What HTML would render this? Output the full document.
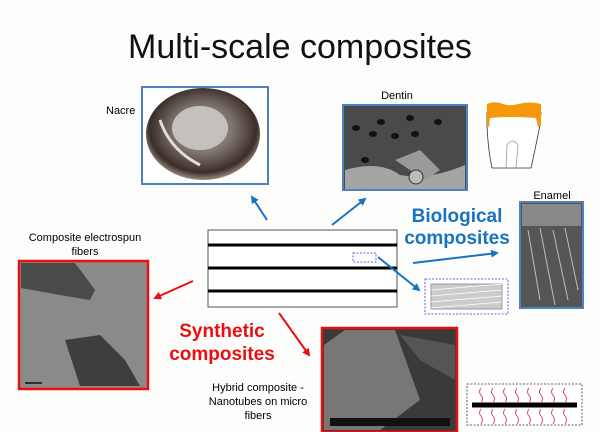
<!DOCTYPE html>
<html><head><style>
html,body{margin:0;padding:0;background:#fdfdfb;}
svg{display:block;font-family:"Liberation Sans",sans-serif;}
</style></head><body>
<svg width="600" height="432" viewBox="0 0 600 432" xmlns="http://www.w3.org/2000/svg">
<defs>
<marker id="ab" markerWidth="8" markerHeight="8" refX="6" refY="4" orient="auto" markerUnits="userSpaceOnUse"><path d="M0,0 L8,4 L0,8 z" fill="#1a73c0"/></marker>
<marker id="ar" markerWidth="8" markerHeight="8" refX="6" refY="4" orient="auto" markerUnits="userSpaceOnUse"><path d="M0,0 L8,4 L0,8 z" fill="#e81010"/></marker>
<radialGradient id="shell" cx="0.5" cy="0.45" r="0.55"><stop offset="0" stop-color="#bdb8b2"/><stop offset="0.5" stop-color="#7a6f68"/><stop offset="0.85" stop-color="#3a2e2a"/><stop offset="1" stop-color="#9b8b7a"/></radialGradient>
</defs>
<rect width="600" height="432" fill="#fdfdfb"/>
<text x="300" y="58" font-size="34" text-anchor="middle" fill="#111">Multi-scale composites</text>

<!-- Nacre -->
<text x="106" y="114" font-size="11">Nacre</text>
<rect x="142" y="87" width="126" height="97" fill="#fff" stroke="#4f81bd" stroke-width="2"/>
<ellipse cx="203" cy="134" rx="57" ry="46" fill="url(#shell)"/>
<ellipse cx="200" cy="128" rx="28" ry="22" fill="#c4c0bc"/>
<path d="M160,120 Q170,150 200,165" stroke="#ddd" stroke-width="3" fill="none"/>

<!-- Dentin -->
<text x="397" y="99" font-size="11" text-anchor="middle">Dentin</text>
<rect x="343" y="105" width="124" height="85" fill="#4a4a4a" stroke="#4f81bd" stroke-width="2"/>
<path d="M345,170 Q380,160 400,175 Q430,180 465,165 L465,189 L345,189 Z" fill="#a5a5a5"/>
<g fill="#111"><ellipse cx="381" cy="122" rx="4" ry="3"/><ellipse cx="410" cy="118" rx="4" ry="3"/><ellipse cx="438" cy="122" rx="4" ry="3"/><ellipse cx="356" cy="128" rx="4" ry="3"/><ellipse cx="373" cy="134" rx="4" ry="3"/><ellipse cx="395" cy="136" rx="4" ry="3"/><ellipse cx="415" cy="134" rx="4" ry="3"/><ellipse cx="365" cy="160" rx="4" ry="3"/></g>
<path d="M395,160 L420,150 L440,170 L425,180 Z" fill="#999"/>
<circle cx="416" cy="177" r="7" fill="#bbb" stroke="#333"/>

<!-- tooth -->
<path d="M487,112 L541,112 L540,125 Q535,150 531,168 L492,168 Q488,150 487,125 Z" fill="#fff" stroke="#333" stroke-width="0.8"/>
<path d="M487,104 Q493,101 500,103 Q510,107 518,104 Q530,101 541,104 L541,125 L538,127 L536,118 Q512,116 490,118 L489,127 L487,126 Z" fill="#f5980c"/>
<path d="M506,168 L507,145 Q512,137 518,145 L516,168" fill="none" stroke="#999" stroke-width="0.8"/>

<!-- Enamel -->
<text x="552" y="199" font-size="11" text-anchor="middle">Enamel</text>
<rect x="520" y="202" width="63" height="106" fill="#555" stroke="#4f81bd" stroke-width="2"/>
<rect x="522" y="204" width="59" height="22" fill="#888"/>
<g stroke="#bbb" stroke-width="1"><line x1="528" y1="230" x2="540" y2="300"/><line x1="540" y1="228" x2="555" y2="305"/><line x1="553" y1="230" x2="568" y2="300"/><line x1="565" y1="228" x2="578" y2="290"/></g>

<text x="457" y="222" font-size="19" font-weight="bold" fill="#1a73c0" text-anchor="middle">Biological</text>
<text x="457" y="244" font-size="19" font-weight="bold" fill="#1a73c0" text-anchor="middle">composites</text>

<!-- center rect -->
<rect x="208" y="230" width="189" height="77" fill="#fff" stroke="#555" stroke-width="1"/>
<g stroke="#000" stroke-width="3"><line x1="208" y1="245" x2="397" y2="245"/><line x1="208" y1="268" x2="397" y2="268"/><line x1="208" y1="291" x2="397" y2="291"/></g>
<rect x="353" y="253" width="23" height="9" fill="none" stroke="#3333ee" stroke-width="0.8" stroke-dasharray="2,1.5"/>

<!-- arrows blue -->
<line x1="267" y1="220" x2="252" y2="197" stroke="#1a73c0" stroke-width="2" marker-end="url(#ab)"/>
<line x1="332" y1="225" x2="365" y2="199" stroke="#1a73c0" stroke-width="2" marker-end="url(#ab)"/>
<line x1="413" y1="263" x2="497" y2="253" stroke="#1a73c0" stroke-width="2" marker-end="url(#ab)"/>
<line x1="378" y1="257" x2="419" y2="290" stroke="#1a73c0" stroke-width="2" marker-end="url(#ab)"/>

<!-- brick pattern -->
<rect x="425" y="279" width="83" height="35" fill="#fff" stroke="#3333ee" stroke-width="0.8" stroke-dasharray="2,1.5"/>
<rect x="431" y="284" width="71" height="25" fill="#ccc" stroke="#999"/>
<g stroke="#fff" stroke-width="0.8"><line x1="431" y1="290" x2="502" y2="284"/><line x1="431" y1="296" x2="502" y2="290"/><line x1="431" y1="302" x2="502" y2="296"/><line x1="431" y1="308" x2="502" y2="302"/></g>

<!-- left synthetic -->
<text x="85" y="241" font-size="11" text-anchor="middle">Composite electrospun</text>
<text x="85" y="255" font-size="11" text-anchor="middle">fibers</text>
<rect x="19" y="261" width="129" height="128" fill="#8a8a8a" stroke="#e81010" stroke-width="2.5"/>
<path d="M21,263 L75,263 L95,290 L90,300 L60,295 L21,288 Z" fill="#4a4a4a"/>
<path d="M65,340 L100,335 L125,360 L140,386 L80,386 Z" fill="#3e3e3e"/>
<line x1="25" y1="383" x2="42" y2="383" stroke="#111" stroke-width="1.5"/>
<line x1="193" y1="281" x2="155" y2="298" stroke="#e81010" stroke-width="2" marker-end="url(#ar)"/>

<text x="222" y="337" font-size="19" font-weight="bold" fill="#e81010" text-anchor="middle">Synthetic</text>
<text x="222" y="360" font-size="19" font-weight="bold" fill="#e81010" text-anchor="middle">composites</text>
<line x1="279" y1="313" x2="309" y2="355" stroke="#e81010" stroke-width="2" marker-end="url(#ar)"/>

<!-- hybrid -->
<text x="258" y="391" font-size="11" text-anchor="middle">Hybrid composite -</text>
<text x="258" y="405" font-size="11" text-anchor="middle">Nanotubes on micro</text>
<text x="258" y="419" font-size="11" text-anchor="middle">fibers</text>
<rect x="322" y="328" width="135" height="104" fill="#3a3a3a" stroke="#e81010" stroke-width="2.5"/>
<path d="M324,345 L345,330 L395,330 L420,400 L380,430 L324,430 Z" fill="#777"/>
<path d="M400,335 L455,345 L455,380 L420,360 Z" fill="#555"/>
<rect x="330" y="418" width="120" height="8" fill="#111"/>

<!-- nanotube dashed -->
<rect x="467" y="384" width="115" height="41" fill="#fff" stroke="#333" stroke-width="0.8" stroke-dasharray="2,1.5"/>
<line x1="472" y1="405" x2="577" y2="405" stroke="#000" stroke-width="5"/>
<g stroke="#e8407a" stroke-width="1" fill="none">
<path d="M481,388 q-3,4 0,7 q3,4 0,8 M493,388 q-3,4 0,7 q3,4 0,8 M505,388 q-3,4 0,7 q3,4 0,8 M517,388 q-3,4 0,7 q3,4 0,8 M529,388 q-3,4 0,7 q3,4 0,8 M541,388 q-3,4 0,7 q3,4 0,8 M553,388 q-3,4 0,7 q3,4 0,8 M565,388 q-3,4 0,7 q3,4 0,8"/>
<path d="M481,409 q-3,4 0,7 q3,4 0,8 M493,409 q-3,4 0,7 q3,4 0,8 M505,409 q-3,4 0,7 q3,4 0,8 M517,409 q-3,4 0,7 q3,4 0,8 M529,409 q-3,4 0,7 q3,4 0,8 M541,409 q-3,4 0,7 q3,4 0,8 M553,409 q-3,4 0,7 q3,4 0,8 M565,409 q-3,4 0,7 q3,4 0,8"/>
</g>
</svg>
</body></html>
